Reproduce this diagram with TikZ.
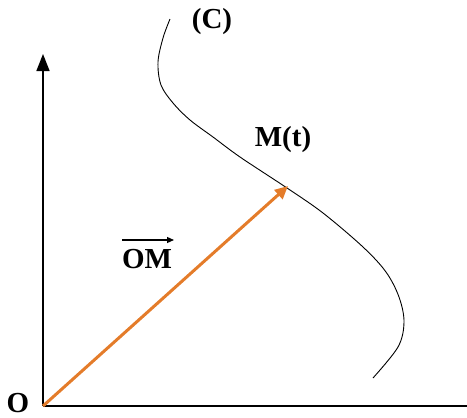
\documentclass[tikz,border=0pt]{standalone}
\usepackage{fontspec}
\setmainfont{Liberation Serif}
\usetikzlibrary{arrows.meta}
\definecolor{vecorange}{RGB}{228,124,42}
\tikzset{
  lbl/.style={font=\fontsize{29}{32}\selectfont\bfseries, inner sep=0pt},
  axisline/.style={line width=1.6pt, black},
  curveline/.style={line width=0.9pt, black},
  vecline/.style={line width=3pt, vecorange, -{Triangle[length=13pt,width=12pt]}}
}
\begin{document}
\begin{tikzpicture}[x=1pt,y=-1pt]
\useasboundingbox (0,0) rectangle (467,418);
\coordinate (O0) at (43,406);
\coordinate (xend) at (467,406);
\coordinate (yend) at (43,54);
\coordinate (M) at (288,186);
\draw[axisline] (O0) -- (xend);
\draw[axisline, -{Triangle[length=17pt,width=13pt]}] (O0) -- (yend);
\draw[curveline] plot[smooth, tension=0.55] coordinates {(170,19) (163,38) (158,62) (161,85) (173,103) (190,120) (213,137) (240,157) (287,188) (323,213) (363,247) (386,272) (399,297) (404,322) (398,347) (373,378)};
\draw[vecline] (O0) -- (M);
\node[lbl, anchor=base] (Olbl) at (18,412) {O};
\node[lbl] (OMlbl) at (147,259) {OM};
\draw[line width=1.2pt, -{Triangle[length=7pt,width=6pt]}] (122,240) -- (174,240);
\node[lbl] (Clbl) at (212,22) {(C)};
\node[lbl] (Mlbl) at (283,140) {M(t)};
\end{tikzpicture}
\end{document}
